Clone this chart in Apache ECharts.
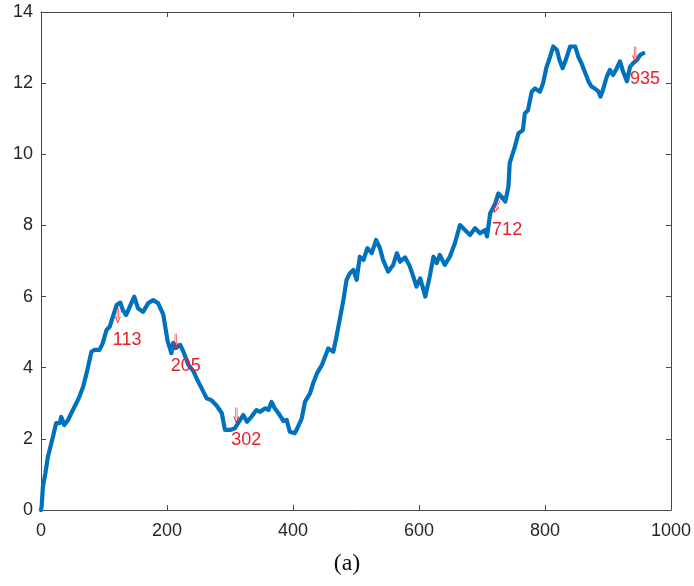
<!DOCTYPE html>
<html>
<head>
<meta charset="utf-8">
<style>html,body{margin:0;padding:0;background:#fff}#c{width:694px;height:586px}</style>
<script src="https://cdn.jsdelivr.net/npm/echarts@6/dist/echarts.min.js"></script>
</head>
<body>
<div id="c"></div>
<script>
var xs = [0,1,3,7,11,19,24,30,32,37,43,48,56,61,67,73,80,85,93,98,104,109,114,120,126,130,135,141,148,154,162,170,178,186,194,201,207,210,214,221,226,234,242,247,255,263,271,279,287,292,300,308,316,321,327,334,342,348,356,361,366,371,377,385,390,395,403,408,414,419,427,432,438,446,452,456,464,469,475,480,485,490,496,501,506,512,518,525,532,538,543,551,559,565,570,578,585,591,596,602,610,617,623,628,633,641,649,657,665,673,681,689,697,705,708,713,721,726,731,737,742,744,752,758,765,768,773,779,784,792,797,802,808,813,819,823,828,833,840,848,853,858,863,869,874,879,885,888,892,898,903,908,914,919,924,930,935,940,946,951,956];
var ys = [0,0.1,0.65,1.04,1.5,2.06,2.44,2.44,2.62,2.39,2.53,2.72,3.0,3.19,3.47,3.89,4.45,4.5,4.5,4.69,5.06,5.15,5.43,5.76,5.83,5.62,5.48,5.72,6.0,5.67,5.57,5.81,5.9,5.81,5.5,4.75,4.41,4.7,4.55,4.64,4.45,4.08,3.9,3.7,3.42,3.14,3.08,2.93,2.72,2.25,2.25,2.3,2.53,2.67,2.48,2.62,2.81,2.76,2.86,2.81,3.04,2.86,2.72,2.5,2.53,2.2,2.16,2.34,2.58,3.04,3.28,3.56,3.84,4.08,4.36,4.54,4.45,4.87,5.43,5.9,6.47,6.65,6.75,6.47,7.12,7.03,7.36,7.22,7.59,7.36,7.03,6.7,6.89,7.22,6.98,7.1,6.87,6.56,6.28,6.51,6.0,6.56,7.12,6.94,7.17,6.89,7.12,7.5,8.01,7.87,7.73,7.92,7.78,7.87,7.69,8.34,8.62,8.9,8.81,8.67,9.09,9.75,10.2,10.59,10.68,11.15,11.24,11.76,11.85,11.76,12.0,12.42,12.74,13.03,12.93,12.65,12.42,12.65,13.03,13.03,12.74,12.56,12.33,12.05,11.9,11.85,11.76,11.62,11.81,12.18,12.37,12.23,12.42,12.61,12.33,12.05,12.46,12.56,12.65,12.79,12.84];
var annLabels = ['113','205','302','712','935'];
var annX = [122,214,310,724,943];
var annY = [5.48,4.75,2.67,8.57,12.82];
var xTicks = [0,200,400,600,800,1000];
var yTicks = [0,2,4,6,8,10,12,14];

var lineData = xs.map(function(x,i){return [x, ys[i]];});
var annData = annX.map(function(x,i){return {value:[x, annY[i]], name: annLabels[i], symbolRotate: (annLabels[i]==='712' ? -22 : 0)};});

var axisCol = '#4a4a4a';
var labelStyle = {color:'#262626', fontFamily:'Liberation Sans, Arial, sans-serif', fontSize:18};
function xAx(pos, show){
  return {type:'value', position:pos, min:xTicks[0], max:xTicks[xTicks.length-1], interval:xTicks[1]-xTicks[0],
    axisLine:{show:true, onZero:false, lineStyle:{color:axisCol, width:1}},
    axisTick:{show:true, inside:true, length:5, lineStyle:{color:axisCol}},
    axisLabel:Object.assign({show:show, margin:12, formatter:function(v){return String(v);}}, labelStyle),
    splitLine:{show:false}};
}
function yAx(pos, show){
  return {type:'value', position:pos, min:yTicks[0], max:yTicks[yTicks.length-1], interval:yTicks[1]-yTicks[0],
    axisLine:{show:true, onZero:false, lineStyle:{color:axisCol, width:1}},
    axisTick:{show:true, inside:true, length:5, lineStyle:{color:axisCol}},
    axisLabel:Object.assign({show:show, margin:8, formatter:function(v){return String(v);}}, labelStyle),
    splitLine:{show:false}};
}
var chart = echarts.init(document.getElementById('c'), null, {renderer:'canvas'});
chart.setOption({
  animation:false,
  backgroundColor:'#ffffff',
  grid:{left:41, right:23, top:12, bottom:76, containLabel:false},
  xAxis:[xAx('bottom', true), xAx('top', false)],
  yAxis:[yAx('left', true), yAx('right', false)],
  graphic:[{type:'text', left:'center', top:552,
    style:{text:'(a)', fill:'#111', font:'24px "Liberation Serif", "DejaVu Serif", serif'}}],
  series:[
    {type:'line', data:lineData, showSymbol:false, symbol:'none',
      lineStyle:{color:'#0072BD', width:4.2, join:'round', cap:'round'}, z:2},
    {type:'scatter', data:annData, z:3,
      symbol:'path://M2,0 L2,11 M4,0 L4,11 M0,9 L3,15 L6,9',
      symbolSize:[5,15], symbolKeepAspect:false,
      itemStyle:{color:'rgba(0,0,0,0)', borderColor:'#e8202a', borderWidth:1, opacity:1},
      label:{show:true, position:'inside', align:'left', verticalAlign:'middle', offset:[-5,25],
        formatter:function(p){return p.name;}, color:'#e8202a', fontSize:18,
        fontFamily:'Liberation Sans, Arial, sans-serif'}}
  ]
});
</script>
</body>
</html>
